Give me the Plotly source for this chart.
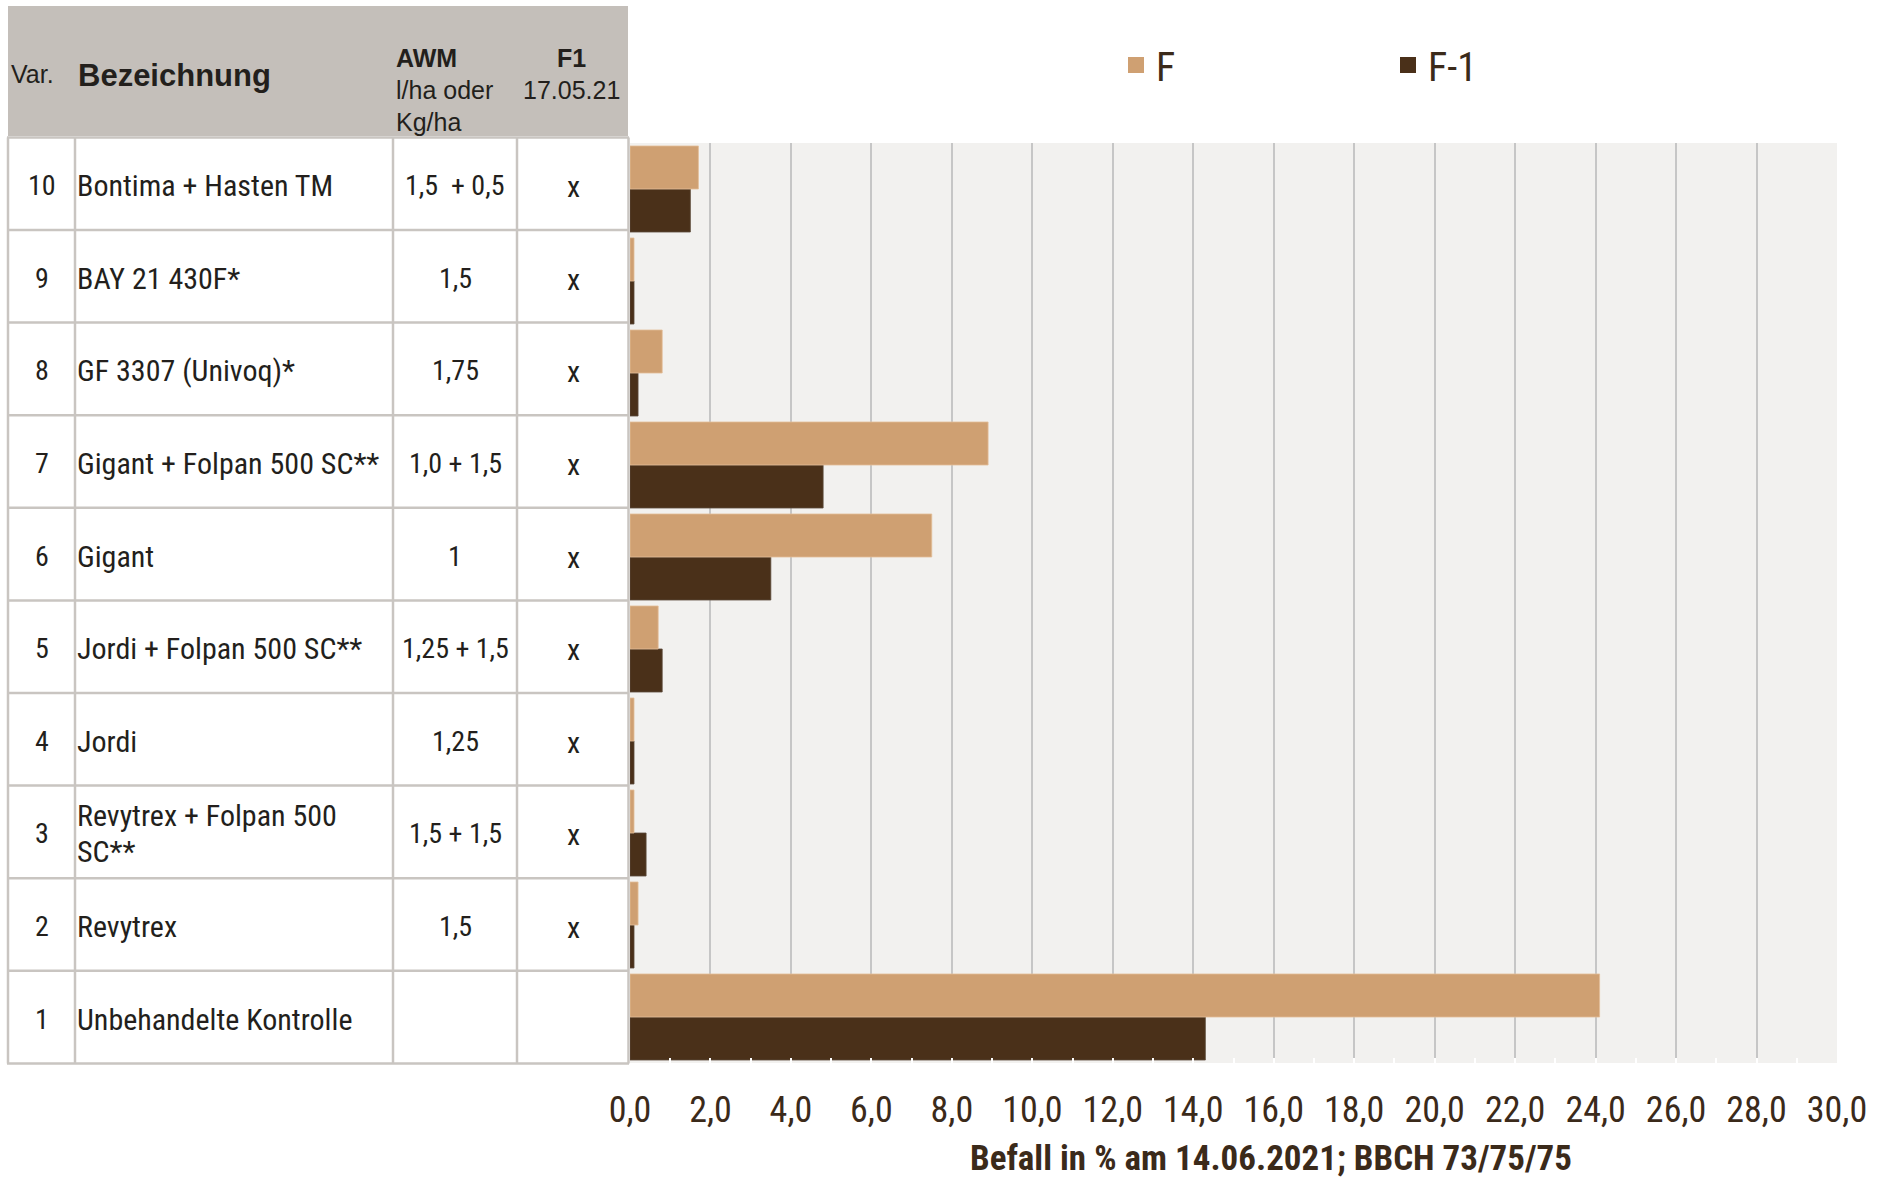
import plotly.graph_objects as go

# ---------------- data ----------------
var_nr = ["10", "9", "8", "7", "6", "5", "4", "3", "2", "1"]
bezeichnung = [
    "Bontima + Hasten TM",
    "BAY 21 430F*",
    "GF 3307 (Univoq)*",
    "Gigant + Folpan 500 SC**",
    "Gigant",
    "Jordi + Folpan 500 SC**",
    "Jordi",
    "Revytrex + Folpan 500\nSC**",
    "Revytrex",
    "Unbehandelte Kontrolle",
]
awm = ["1,5  + 0,5", "1,5", "1,75", "1,0 + 1,5", "1", "1,25 + 1,5", "1,25", "1,5 + 1,5", "1,5", ""]
f1 = ["x", "x", "x", "x", "x", "x", "x", "x", "x", ""]
befall_F = [1.7, 0.1, 0.8, 8.9, 7.5, 0.7, 0.1, 0.1, 0.2, 24.1]
befall_F1 = [1.5, 0.1, 0.2, 4.8, 3.5, 0.8, 0.1, 0.4, 0.1, 14.3]
series_names = ["F", "F-1"]
x_ticks = [0, 2, 4, 6, 8, 10, 12, 14, 16, 18, 20, 22, 24, 26, 28, 30]
x_title = "Befall in % am 14.06.2021; BBCH 73/75/75"
header_var = "Var."
header_bez = "Bezeichnung"
header_awm = ["AWM", "l/ha oder", "Kg/ha"]
header_f1 = ["F1", "17.05.21"]

# ---------------- style ----------------
W, H = 1879, 1178
PL, PR, PT, PB = 630, 1837, 143, 1063
C_F = "#CFA072"
C_F1 = "#4A3019"
C_TXT = "#231F1C"
C_AX = "#3B2A1A"
C_HEAD = "#C4BFBA"
C_LINE = "#C9C5C1"
NARROW = "Liberation Sans Narrow, Arial Narrow, Roboto Condensed, DejaVu Sans Condensed, sans-serif"
REG = "Liberation Sans, Arial, sans-serif"


def px(x):
    return (x - PL) / (PR - PL)


def py(y):
    return (PB - y) / (PB - PT)


fig = go.Figure()
fig.add_trace(go.Bar(
    y=var_nr, x=befall_F1, orientation="h", name=series_names[1],
    marker=dict(color=C_F1, line=dict(color="#5C4A3A", width=0.8)), showlegend=False,
))
fig.add_trace(go.Bar(
    y=var_nr, x=befall_F, orientation="h", name=series_names[0],
    marker=dict(color=C_F, line=dict(color="#E3BE98", width=0.8)), showlegend=False,
))
# legend entries
for nm, col in zip(series_names, [C_F, C_F1]):
    fig.add_trace(go.Scatter(
        x=[None], y=[None], mode="markers", name=nm,
        marker=dict(symbol="square", size=20, color=col), showlegend=True,
    ))

shapes = []
annotations = []

# table header
shapes.append(dict(type="rect", xref="paper", yref="paper",
                   x0=px(8), x1=px(628), y0=py(6), y1=py(136),
                   fillcolor=C_HEAD, line=dict(width=0), layer="below"))

ROW_T = 137.4
ROW_H = 92.6
n = len(var_nr)
# horizontal lines
for k in range(n + 1):
    yy = ROW_T + k * ROW_H
    shapes.append(dict(type="line", xref="paper", yref="paper",
                       x0=px(7), x1=px(629), y0=py(yy), y1=py(yy),
                       line=dict(color=C_LINE, width=2.5)))
# vertical lines
for xx in [8, 75, 393, 517, 628.5]:
    shapes.append(dict(type="line", xref="paper", yref="paper",
                       x0=px(xx), x1=px(xx), y0=py(ROW_T), y1=py(ROW_T + n * ROW_H),
                       line=dict(color=C_LINE, width=2.5)))


def ann(text, x, y, size, family, xanchor="center", color=C_TXT, bold=False):
    t = "<b>" + text + "</b>" if bold else text
    annotations.append(dict(text=t, x=px(x), y=py(y), xref="paper", yref="paper",
                            xanchor=xanchor, yanchor="middle", showarrow=False,
                            font=dict(size=size, family=family, color=color)))


# header text
ann(header_var, 9, 74, 25, REG, "left")
ann(header_bez, 76, 76, 31, REG, "left", bold=True)
for i, t in enumerate(header_awm):
    ann(t, 394, 58 + i * 32, 25, REG, "left", bold=(i == 0))
for i, t in enumerate(header_f1):
    ann(t, 571, 58 + i * 32, 25, REG, "center", bold=(i == 0))

# table rows
for i in range(n):
    yc = ROW_T + (i + 0.5) * ROW_H + 2
    ann(var_nr[i], 41.5, yc, 28, NARROW)
    lines = bezeichnung[i].split("\n")
    m = len(lines)
    for j, ln in enumerate(lines):
        ann(ln, 75, yc + (j - (m - 1) / 2) * 36, 30, NARROW, "left")
    if awm[i]:
        ann(awm[i], 455, yc, 28, NARROW)
    if f1[i]:
        ann(f1[i], 573, yc + 1, 30, NARROW)

# axis title
ann(x_title, 1271, 1158, 35, NARROW, "center", color=C_AX, bold=True)

fig.update_layout(
    width=W, height=H,
    margin=dict(l=PL, r=W - PR, t=PT, b=H - PB, pad=0),
    paper_bgcolor="white", plot_bgcolor="#F2F1EF",
    barmode="group", bargap=0.065, bargroupgap=0,
    separators=",.",
    shapes=shapes, annotations=annotations,
    showlegend=True,
    legend=dict(orientation="h", x=px(1116), y=py(65), xanchor="left", yanchor="middle",
                font=dict(size=40, family=NARROW, color=C_AX),
                entrywidth=227, entrywidthmode="pixels",
                bgcolor="rgba(0,0,0,0)", itemclick=False, itemdoubleclick=False),
)
fig.update_xaxes(
    range=[0, 30], tickvals=x_ticks, tickformat=".1f",
    showgrid=True, gridcolor="#C6C6C6", gridwidth=1.5, zeroline=False,
    showline=False, ticks="inside", ticklen=5, tickcolor="white", tickwidth=1.5,
    minor=dict(dtick=1, ticks="inside", ticklen=5, tickcolor="white", tickwidth=1.5, showgrid=False),
    tickfont=dict(size=36, family=NARROW, color=C_AX),
    ticklabelstandoff=22, fixedrange=True,
)
fig.update_yaxes(
    type="category", categoryorder="array", categoryarray=var_nr[::-1],
    showticklabels=False, showgrid=False, zeroline=False, ticks="", showline=False,
    fixedrange=True,
)

fig.write_html("out.html", post_script="document.body.style.margin='0px';",
               config={"displayModeBar": False})
